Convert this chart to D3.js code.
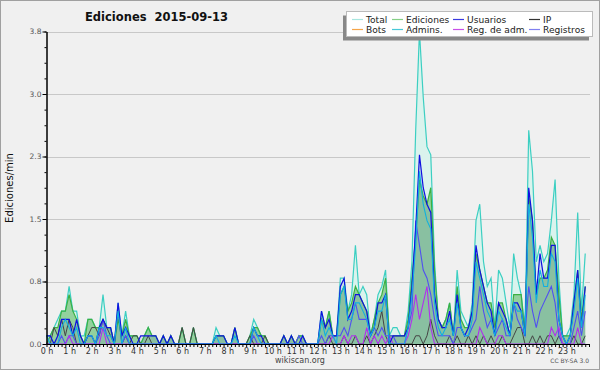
<!DOCTYPE html>
<html>
<head>
<meta charset="utf-8">
<script src="https://cdn.jsdelivr.net/npm/d3@7"></script>
<style>
  body { margin: 0; background: #f0f0f0; }
  svg { display: block; }
  text { font-family: "DejaVu Sans", sans-serif; }
</style>
</head>
<body>
<svg id="chart" width="600" height="370"></svg>
<script>
// one value per 10 minutes, 144 values (6 per hour), edits/min
const total = [
  0.1,0.1,0.2,0.3,0.4,0.4,  0.7,0.4,0.4,0.1,0.1,0.3,  0.3,0.2,0.2,0.6,0.2,0.2,  0.0,0.5,0.1,0.4,0.1,0.1,
  0.1,0.0,0.1,0.2,0.1,0.1,  0.0,0.1,0.0,0.1,0.0,0.0,  0.2,0.0,0.0,0.2,0.0,0.0,  0.0,0.0,0.0,0.2,0.1,0.1,
  0.0,0.0,0.2,0.0,0.0,0.0,  0.1,0.3,0.2,0.1,0.1,0.0,  0.0,0.0,0.0,0.1,0.0,0.1,  0.0,0.1,0.1,0.0,0.0,0.0,
  0.0,0.4,0.2,0.4,0.1,0.1,  0.8,0.8,0.4,0.6,1.2,0.6,  0.7,0.6,0.1,0.3,0.6,0.7,  0.9,0.1,0.2,0.2,0.1,0.1,
  0.4,1.0,2.6,3.8,3.0,2.4,  2.3,1.0,0.3,0.2,0.3,0.5,  0.1,0.9,0.4,0.3,0.2,0.5,  1.5,1.7,1.0,0.7,0.8,0.2,
  0.9,0.8,0.5,0.2,1.1,0.8,  0.6,0.2,2.6,2.1,1.0,1.2,  1.0,1.1,1.5,2.0,0.8,0.1,  0.1,0.2,0.6,1.6,0.4,1.1
];
const ediciones = [
  0.0,0.1,0.2,0.2,0.4,0.4,  0.6,0.4,0.3,0.1,0.0,0.3,  0.3,0.2,0.2,0.3,0.2,0.2,  0.0,0.3,0.1,0.3,0.1,0.1,
  0.1,0.0,0.1,0.2,0.1,0.1,  0.0,0.1,0.0,0.1,0.0,0.0,  0.2,0.0,0.0,0.2,0.0,0.0,  0.0,0.0,0.0,0.1,0.1,0.1,
  0.0,0.0,0.2,0.0,0.0,0.0,  0.1,0.2,0.2,0.1,0.1,0.0,  0.0,0.0,0.0,0.1,0.0,0.1,  0.0,0.1,0.1,0.0,0.0,0.0,
  0.0,0.3,0.2,0.4,0.1,0.1,  0.6,0.7,0.4,0.5,0.7,0.6,  0.5,0.4,0.1,0.3,0.5,0.6,  0.8,0.1,0.1,0.1,0.1,0.1,
  0.3,0.8,1.3,2.0,1.8,1.7,  1.9,0.9,0.3,0.2,0.3,0.5,  0.1,0.7,0.3,0.2,0.2,0.4,  1.1,0.9,0.7,0.5,0.5,0.2,
  0.5,0.5,0.3,0.1,0.6,0.6,  0.6,0.1,1.8,1.5,0.6,0.8,  0.8,0.9,1.3,1.2,0.6,0.1,  0.1,0.1,0.5,0.9,0.3,0.7
];
const usuarios = [
  0.1,0.1,0.0,0.1,0.3,0.3,  0.3,0.1,0.3,0.1,0.0,0.1,  0.1,0.0,0.2,0.3,0.2,0.2,  0.0,0.5,0.1,0.2,0.1,0.0,
  0.0,0.1,0.1,0.1,0.1,0.1,  0.0,0.1,0.0,0.1,0.0,0.0,  0.0,0.0,0.0,0.0,0.0,0.0,  0.0,0.0,0.0,0.1,0.1,0.1,
  0.0,0.0,0.2,0.0,0.0,0.0,  0.0,0.2,0.1,0.1,0.0,0.0,  0.0,0.0,0.0,0.1,0.0,0.1,  0.0,0.0,0.1,0.0,0.0,0.0,
  0.0,0.4,0.2,0.3,0.1,0.1,  0.7,0.8,0.3,0.4,0.6,0.6,  0.5,0.4,0.1,0.2,0.5,0.5,  0.6,0.0,0.1,0.1,0.1,0.1,
  0.2,0.7,1.4,2.3,1.9,1.7,  1.6,0.6,0.3,0.2,0.2,0.4,  0.1,0.6,0.2,0.1,0.2,0.4,  1.2,0.9,0.7,0.5,0.4,0.1,
  0.5,0.4,0.3,0.1,0.5,0.5,  0.4,0.1,1.9,1.5,0.6,1.1,  0.8,0.8,1.2,1.2,0.3,0.1,  0.0,0.1,0.5,0.9,0.2,0.7
];
const ip = [
  0.0,0.0,0.2,0.1,0.3,0.1,  0.3,0.2,0.0,0.0,0.0,0.1,  0.2,0.2,0.1,0.3,0.2,0.1,  0.0,0.4,0.0,0.1,0.0,0.1,
  0.1,0.0,0.0,0.1,0.0,0.0,  0.0,0.0,0.0,0.0,0.0,0.0,  0.2,0.0,0.0,0.2,0.0,0.0,  0.0,0.0,0.0,0.0,0.0,0.0,
  0.0,0.0,0.0,0.0,0.0,0.0,  0.1,0.0,0.0,0.0,0.1,0.0,  0.0,0.0,0.0,0.0,0.0,0.0,  0.0,0.0,0.0,0.0,0.0,0.0,
  0.0,0.0,0.0,0.1,0.0,0.0,  0.0,0.1,0.0,0.0,0.1,0.0,  0.0,0.1,0.0,0.1,0.2,0.4,  0.1,0.0,0.0,0.0,0.0,0.0,
  0.0,0.0,0.1,0.1,0.0,0.1,  0.3,0.1,0.0,0.0,0.0,0.1,  0.0,0.1,0.0,0.0,0.1,0.0,  0.1,0.0,0.1,0.0,0.1,0.0,
  0.0,0.1,0.0,0.0,0.1,0.2,  0.2,0.0,0.0,0.1,0.0,0.1,  0.0,0.1,0.1,0.0,0.1,0.0,  0.0,0.0,0.1,0.0,0.0,0.1
];
const admins = [
  0.1,0.0,0.0,0.0,0.2,0.3,  0.2,0.1,0.2,0.0,0.0,0.1,  0.1,0.0,0.2,0.2,0.1,0.1,  0.0,0.4,0.0,0.2,0.0,0.0,
  0.0,0.0,0.0,0.0,0.0,0.0,  0.0,0.0,0.0,0.0,0.0,0.0,  0.0,0.0,0.0,0.0,0.0,0.0,  0.0,0.0,0.0,0.1,0.0,0.0,
  0.0,0.0,0.1,0.0,0.0,0.0,  0.0,0.2,0.1,0.0,0.0,0.0,  0.0,0.0,0.0,0.0,0.0,0.0,  0.0,0.0,0.0,0.0,0.0,0.0,
  0.0,0.3,0.1,0.2,0.1,0.0,  0.6,0.7,0.3,0.3,0.5,0.5,  0.4,0.3,0.1,0.2,0.4,0.4,  0.6,0.0,0.0,0.0,0.0,0.0,
  0.2,0.6,1.2,2.1,1.7,1.5,  1.4,0.5,0.2,0.1,0.2,0.3,  0.1,0.5,0.2,0.1,0.1,0.3,  1.0,0.8,0.6,0.4,0.3,0.1,
  0.4,0.3,0.2,0.1,0.5,0.4,  0.4,0.1,1.7,1.3,0.5,0.9,  0.7,0.7,1.1,1.0,0.3,0.1,  0.0,0.1,0.4,0.8,0.2,0.6
];
const regAdm = [
  0.0,0.0,0.0,0.0,0.0,0.0,  0.1,0.0,0.0,0.0,0.0,0.0,  0.0,0.0,0.0,0.2,0.0,0.0,  0.0,0.0,0.0,0.0,0.0,0.0,
  0.0,0.0,0.0,0.0,0.0,0.0,  0.0,0.0,0.0,0.0,0.0,0.0,  0.0,0.0,0.0,0.0,0.0,0.0,  0.0,0.0,0.0,0.0,0.0,0.0,
  0.0,0.0,0.0,0.0,0.0,0.0,  0.0,0.0,0.0,0.0,0.0,0.0,  0.0,0.0,0.0,0.0,0.0,0.0,  0.0,0.0,0.0,0.0,0.0,0.0,
  0.0,0.0,0.0,0.0,0.1,0.0,  0.0,0.1,0.0,0.1,0.1,0.0,  0.0,0.2,0.0,0.1,0.0,0.1,  0.0,0.1,0.0,0.0,0.0,0.0,
  0.1,0.3,0.6,0.3,0.5,0.7,  0.2,0.0,0.0,0.0,0.0,0.0,  0.0,0.0,0.0,0.0,0.0,0.0,  0.0,0.2,0.1,0.0,0.0,0.0,
  0.1,0.1,0.0,0.0,0.0,0.0,  0.0,0.0,0.0,0.0,0.0,0.0,  0.0,0.0,0.2,0.1,0.2,0.0,  0.0,0.0,0.0,0.2,0.0,0.0
];
const registros = [
  0.0,0.0,0.0,0.0,0.1,0.0,  0.1,0.1,0.0,0.0,0.0,0.0,  0.0,0.0,0.1,0.3,0.1,0.0,  0.0,0.0,0.0,0.1,0.0,0.0,
  0.0,0.0,0.0,0.0,0.0,0.0,  0.0,0.0,0.0,0.0,0.0,0.0,  0.0,0.0,0.0,0.0,0.0,0.0,  0.0,0.0,0.0,0.0,0.0,0.0,
  0.0,0.0,0.0,0.0,0.0,0.0,  0.0,0.1,0.0,0.0,0.0,0.0,  0.0,0.0,0.0,0.0,0.0,0.0,  0.0,0.1,0.0,0.0,0.0,0.0,
  0.0,0.1,0.0,0.1,0.1,0.1,  0.1,0.2,0.1,0.3,0.5,0.3,  0.3,0.3,0.1,0.2,0.1,0.2,  0.1,0.1,0.1,0.0,0.0,0.0,
  0.2,0.4,1.5,1.2,0.9,0.8,  0.6,0.3,0.1,0.1,0.1,0.1,  0.0,0.2,0.2,0.1,0.1,0.2,  0.3,0.7,0.4,0.2,0.3,0.1,
  0.2,0.3,0.1,0.1,0.5,0.3,  0.2,0.1,0.7,0.4,0.2,0.4,  0.5,0.6,0.7,0.5,0.1,0.0,  0.0,0.0,0.2,0.4,0.1,0.4
];

const hourLabels = d3.range(0, 24).map(h => h + ' h');
const yTicks = [0, 0.76, 1.52, 2.28, 3.04, 3.8];
const legendNames = ['Total', 'Ediciones', 'Usuarios', 'IP', 'Bots', 'Admins.', 'Reg. de adm.', 'Registros'];
const legendColors = ['#a8e6df', '#86d086', '#3a3ae0', '#333333', '#f5a54a', '#48c8d8', '#c850e8', '#8080f0'];

const svg = d3.select('#chart');

svg.append('rect')
  .attr('x', 0.5).attr('y', 0.5)
  .attr('width', 599).attr('height', 369)
  .attr('fill', '#f0f0f0')
  .attr('stroke', '#a0a0a0');

const x = d3.scaleLinear().domain([0, 144]).range([46.5, 589]);
const y = d3.scaleLinear().domain([0, 3.8]).range([344, 31.5]);

// grid
svg.append('g')
  .selectAll('line')
  .data(yTicks.slice(1))
  .enter()
  .append('line')
  .attr('x1', 46.5).attr('x2', 590)
  .attr('y1', d => Math.round(y(d)) + 0.5)
  .attr('y2', d => Math.round(y(d)) + 0.5)
  .attr('stroke', '#c8c8c8');

const area = data => d3.area()
  .x((d, i) => x(i))
  .y0(y(0))
  .y1(d => y(d))(data);

const line = data => d3.line()
  .x((d, i) => x(i))
  .y(d => y(d))(data);

svg.append('path').attr('d', area(total)).attr('fill', '#daf3ed');
svg.append('path').attr('d', area(ediciones)).attr('fill', '#3ca83c').attr('fill-opacity', 0.45);
svg.append('path').attr('d', area(usuarios)).attr('fill', '#3030c0').attr('fill-opacity', 0.1);

let series = [
  [total, '#3ccfc2', 1.2],
  [ediciones, '#3cb043', 1.2],
  [ip, '#454545', 1],
  [registros, '#5050f0', 1.1],
  [regAdm, '#b030ee', 1.1],
  [usuarios, '#1010e0', 1.2],
  [admins, '#10b0e0', 1.1]
];

series.forEach(s => {
  svg.append('path')
    .attr('d', line(s[0]))
    .attr('fill', 'none')
    .attr('stroke', s[1])
    .attr('stroke-width', s[2]);
});

// axes
let xAxis = d3.axisBottom(x)
  .tickValues(d3.range(0, 145))
  .tickSize(3)
  .tickSizeOuter(0)
  .tickPadding(1)
  .tickFormat(d => (d % 6 === 0 && d < 144) ? hourLabels[d / 6] : '');

let gx = svg.append('g')
  .attr('transform', 'translate(0,344)')
  .call(xAxis);
gx.selectAll('text').attr('font-size', 8).attr('fill', '#333').attr('font-family', 'DejaVu Sans');

let yAxis = d3.axisLeft(y)
  .tickValues(yTicks)
  .tickSize(4)
  .tickSizeOuter(0)
  .tickPadding(1)
  .tickFormat(d3.format('.1f'));

let gy = svg.append('g')
  .attr('transform', 'translate(46.5,0)')
  .call(yAxis);
gy.selectAll('text').attr('font-size', 7.5).attr('fill', '#555').attr('font-family', 'DejaVu Sans');

svg.append('g')
  .attr('transform', 'translate(46.5,0)')
  .call(d3.axisLeft(y).tickValues(d3.range(0, 3.81, 0.19)).tickSize(2).tickSizeOuter(0).tickFormat(''));

svg.selectAll('.domain').attr('stroke', '#000');

// titles
svg.append('text')
  .attr('x', 85).attr('y', 21)
  .attr('font-size', 11.5)
  .attr('font-weight', 'bold')
  .attr('fill', '#111')
  .attr('xml:space', 'preserve')
  .text('Ediciones  2015-09-13');

svg.append('text')
  .attr('transform', 'translate(13,188) rotate(-90)')
  .attr('text-anchor', 'middle')
  .attr('font-size', 10)
  .attr('font-family', 'DejaVu Sans Mono')
  .attr('fill', '#111')
  .text('Ediciones/min');

svg.append('text')
  .attr('x', 300).attr('y', 363)
  .attr('text-anchor', 'middle')
  .attr('font-size', 8)
  .attr('fill', '#444')
  .text('wikiscan.org');

svg.append('text')
  .attr('x', 589).attr('y', 363)
  .attr('text-anchor', 'end')
  .attr('font-size', 6)
  .attr('fill', '#555')
  .text('CC BY-SA 3.0');

// legend
let legend = svg.append('g');
legend.append('rect')
  .attr('x', 343).attr('y', 15.5)
  .attr('width', 246).attr('height', 25)
  .attr('fill', '#888');
legend.append('rect')
  .attr('x', 346.5).attr('y', 11.5)
  .attr('width', 246).attr('height', 25)
  .attr('fill', '#fff')
  .attr('stroke', '#bbb');

const colX = [352, 392, 453, 529];

legendNames.forEach((name, i) => {
  let cx = colX[i % 4];
  let cy = i < 4 ? 19.5 : 29.5;
  legend.append('line')
    .attr('x1', cx).attr('x2', cx + 11)
    .attr('y1', cy).attr('y2', cy)
    .attr('stroke', legendColors[i])
    .attr('stroke-width', 1.2);
  legend.append('text')
    .attr('x', cx + 14).attr('y', cy + 3.3)
    .attr('font-size', 9.1)
    .attr('fill', '#222')
    .text(name);
});
</script>
</body>
</html>
